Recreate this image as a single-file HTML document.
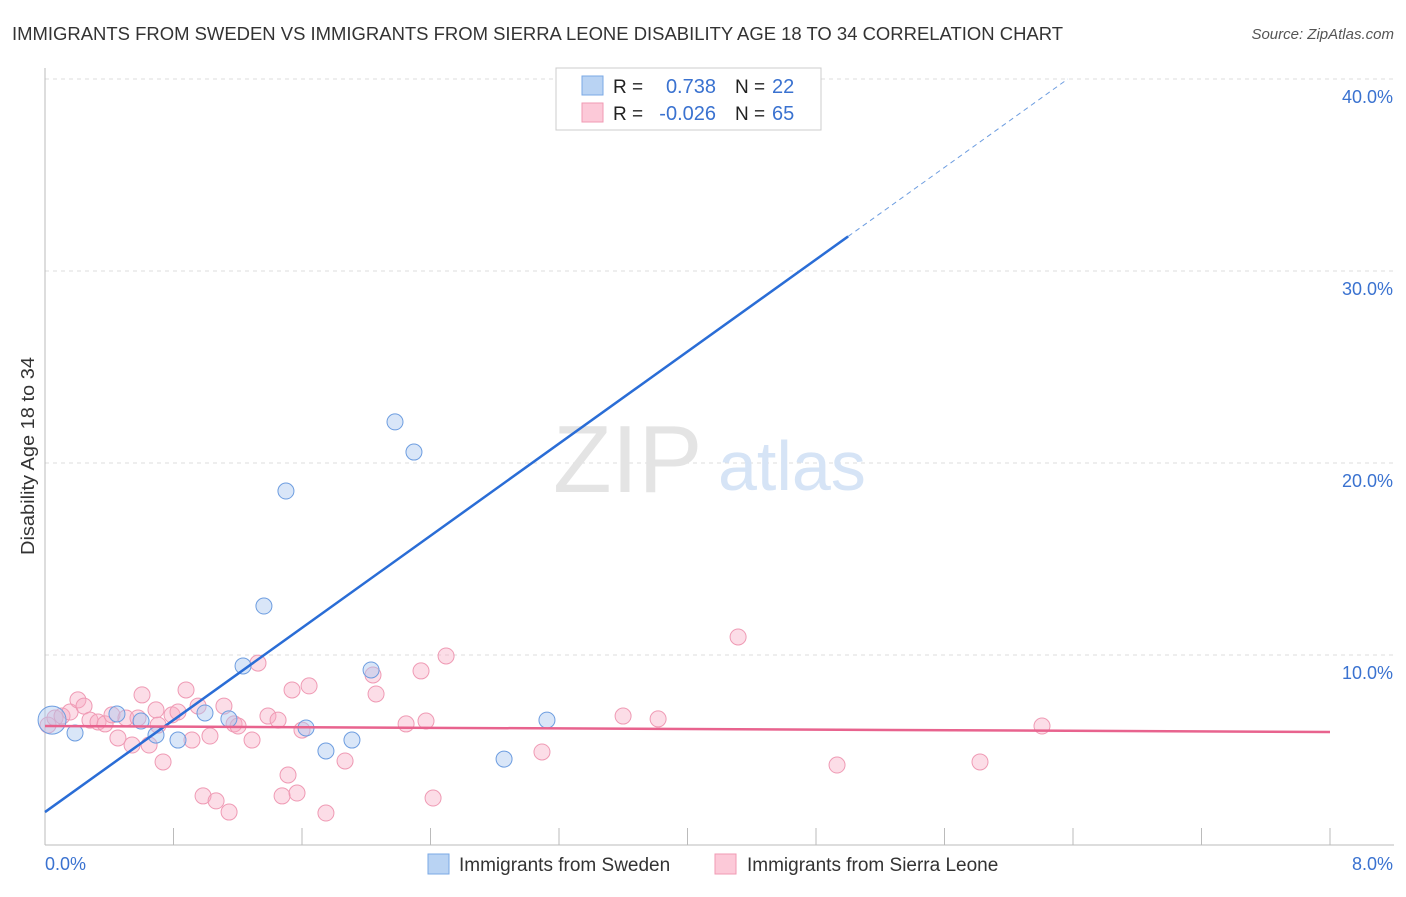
<!DOCTYPE html>
<html><head><meta charset="utf-8"><style>
body{margin:0;background:#fff;font-family:"Liberation Sans",sans-serif}
svg text{font-family:"Liberation Sans",sans-serif}
</style></head><body>
<svg width="1406" height="892" viewBox="0 0 1406 892" xmlns="http://www.w3.org/2000/svg" id="chart">
<text x="12" y="40" font-size="18" fill="#333" textLength="1051" lengthAdjust="spacingAndGlyphs">IMMIGRANTS FROM SWEDEN VS IMMIGRANTS FROM SIERRA LEONE DISABILITY AGE 18 TO 34 CORRELATION CHART</text>
<text x="1394" y="39" font-size="15" fill="#555" font-style="italic" text-anchor="end">Source: ZipAtlas.com</text>
<text x="34" y="555" font-size="18" fill="#333" textLength="198" lengthAdjust="spacingAndGlyphs" transform="rotate(-90 34 555)">Disability Age 18 to 34</text>
<g id="grid"></g>
<g id="axes"></g>
<text x="553" y="492" font-size="96" fill="#e4e4e4" font-family="Liberation Serif">ZIP</text>
<text x="718" y="490" font-size="70" fill="#d6e4f6">atlas</text>
<g id="pts"></g>
<g id="lines"></g>
<g>
<rect x="556" y="68" width="265" height="62" fill="#fff" stroke="#ccc"/>
<rect x="582" y="76" width="21" height="19" fill="#b9d3f3" stroke="#7aa8e6"/>
<rect x="582" y="103" width="21" height="19" fill="#fcc9d8" stroke="#f09ab3"/>
<text x="613" y="93" font-size="19" fill="#222">R =</text>
<text x="716" y="93" font-size="20" fill="#3a72d0" text-anchor="end">0.738</text>
<text x="735" y="93" font-size="19" fill="#222">N =</text>
<text x="772" y="93" font-size="20" fill="#3a72d0">22</text>
<text x="613" y="120" font-size="19" fill="#222">R =</text>
<text x="716" y="120" font-size="20" fill="#3a72d0" text-anchor="end">-0.026</text>
<text x="735" y="120" font-size="19" fill="#222">N =</text>
<text x="772" y="120" font-size="20" fill="#3a72d0">65</text>
</g>
<g>
<rect x="428" y="854" width="21" height="20" fill="#b9d3f3" stroke="#7aa8e6"/>
<text x="459" y="871" font-size="19" fill="#333">Immigrants from Sweden</text>
<rect x="715" y="854" width="21" height="20" fill="#fcc9d8" stroke="#f09ab3"/>
<text x="747" y="871" font-size="19" fill="#333">Immigrants from Sierra Leone</text>
</g>
</svg>
<script>
const xTickLabels=["0.0%","8.0%"];
const yTickValues=[10,20,30,40];
const swedenX=[0.044,0.187,0.448,0.598,0.691,0.828,0.996,1.145,1.233,1.363,1.500,1.625,1.749,1.911,2.030,2.179,2.297,2.858,3.125,4.140,4.713];
const swedenY=[6.61,5.94,6.93,6.56,5.83,5.57,6.98,6.67,9.43,12.55,18.54,6.20,5.0,5.57,9.22,22.14,20.57,4.58,6.61,38.49,38.49];
const leoneX=[0.019,0.062,0.106,0.156,0.205,0.243,0.280,0.330,0.374,0.417,0.454,0.504,0.542,0.579,0.604,0.648,0.691,0.704,0.735,0.791,0.828,0.878,0.915,0.953,0.984,1.027,1.065,1.114,1.146,1.177,1.202,1.289,1.326,1.388,1.451,1.476,1.513,1.538,1.569,1.600,1.644,1.749,1.868,2.042,2.061,2.248,2.341,2.372,2.416,2.497,3.094,3.599,3.817,4.315,4.931,5.821,6.207];
const leoneY=[6.35,6.72,6.82,7.03,7.66,7.34,6.61,6.51,6.41,6.88,5.68,6.72,5.31,6.72,7.92,5.31,7.14,6.35,4.43,6.88,7.03,8.18,5.57,7.34,2.66,5.78,2.40,7.34,1.82,6.41,6.30,5.57,9.58,6.82,6.61,2.66,3.75,8.18,2.81,6.09,8.39,1.77,4.48,8.96,7.97,6.41,9.17,6.56,2.55,9.95,4.95,6.82,6.67,10.94,4.27,4.43,6.30];
const swedenTrend=[1.82,31.8,5.0,40.0];
const leoneTrend=[6.30,5.99];
const NS="http://www.w3.org/2000/svg";
const X=v=>45+v/8*1285, Y=v=>847-v*19.2;
function mk(t,a,p){const e=document.createElementNS(NS,t);for(const k in a)e.setAttribute(k,a[k]);p.appendChild(e);return e;}
const grid=document.getElementById('grid'),axes=document.getElementById('axes');
yTickValues.forEach(v=>{
 const l=mk('line',{x1:45,x2:1394,y1:Y(v),y2:Y(v),stroke:'#ddd','stroke-dasharray':'4,4'},grid);
 
 
 const t=mk('text',{x:1393,y:Y(v)+24,'font-size':18,fill:'#3a72d0','text-anchor':'end'},axes);
 t.textContent=v.toFixed(1)+'%';
 
 
});
mk('line',{x1:45,x2:45,y1:68,y2:845,stroke:'#bbb'},axes);
mk('line',{x1:45,x2:1394,y1:845,y2:845,stroke:'#bbb'},axes);
for(let i=0;i<=10;i++){const x=45+i*128.5;mk('line',{x1:x,x2:x,y1:828,y2:845,stroke:'#bbb'},axes);}
xTickLabels.forEach((s,i)=>{
 const t=mk('text',{x:i?1393:45,y:870,'font-size':18,fill:'#3a72d0','text-anchor':i?'end':'start'},axes);
 t.textContent=s;
 
 
});
const pts=document.getElementById('pts');
leoneX.forEach((v,i)=>{
 const c=mk('circle',{cx:X(v),cy:Y(leoneY[i]),r:8,fill:'rgba(248,170,195,0.4)',stroke:'#ef9ab4','stroke-width':1},pts);
 
 
});
swedenX.forEach((v,i)=>{
 const c=mk('circle',{cx:X(v),cy:Y(swedenY[i]),r:i==0?14:8,fill:'rgba(170,200,240,0.45)',stroke:'#6d9de0','stroke-width':1},pts);
 
 
});
const lines=document.getElementById('lines');
const slope=(swedenTrend[1]-swedenTrend[0])/swedenTrend[2];
const b1=mk('line',{x1:X(0),y1:Y(swedenTrend[0]),x2:X(swedenTrend[2]),y2:Y(swedenTrend[1]),stroke:'#2a6dd6','stroke-width':2.5},lines);


const xe=(swedenTrend[3]-swedenTrend[0])/slope;
const b2=mk('line',{x1:X(swedenTrend[2]),y1:Y(swedenTrend[1]),x2:X(xe),y2:Y(swedenTrend[3]),stroke:'#6d9de0','stroke-width':1,'stroke-dasharray':'5,4'},lines);


const p1=mk('line',{x1:X(0),y1:Y(leoneTrend[0]),x2:X(8),y2:Y(leoneTrend[1]),stroke:'#e8638e','stroke-width':2.5},lines);


</script>
</body></html>
